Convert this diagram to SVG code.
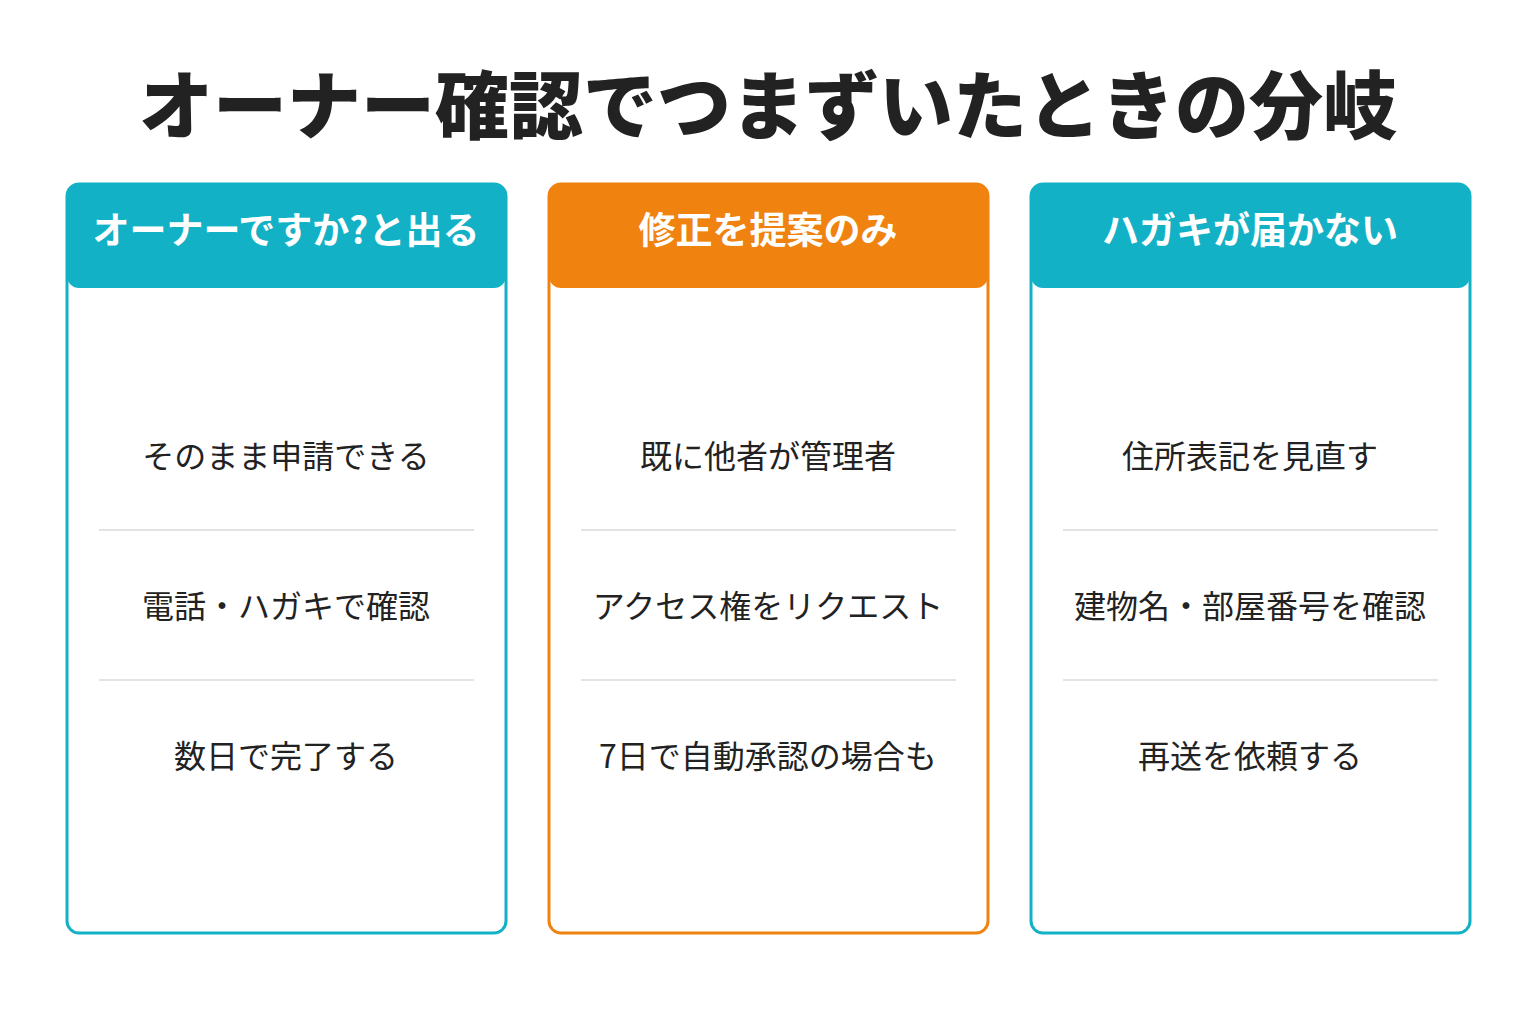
<svg xmlns="http://www.w3.org/2000/svg" width="1536" height="1024" viewBox="0 0 1536 1024">
<style>
text{font-family:"Noto Sans CJK JP","Noto Sans",sans-serif;text-anchor:middle;dominant-baseline:central}
.title{font-size:74px;font-weight:900;fill:#222}
.hd{font-size:37px;font-weight:700;fill:#fff}
.it{font-size:32px;fill:#222}
.div{stroke:#e3e3e3;stroke-width:2}
</style>
<rect width="1536" height="1024" fill="#fff"/>
<text class="title" x="768" y="100">オーナー確認でつまずいたときの分岐</text>
<g id="card1">
<rect x="67" y="184" width="439" height="749" rx="12" fill="#fff" stroke="#13B1C5" stroke-width="3"/>
<path d="M67 196a12 12 0 0 1 12-12h415a12 12 0 0 1 12 12v80a12 12 0 0 1-12 12h-415a12 12 0 0 1-12-12z" fill="#13B1C5"/>
<text class="hd" x="286" y="228">オーナーですか?と出る</text>
<text class="it" x="286" y="454">そのまま申請できる</text>
<line class="div" x1="99" y1="530" x2="474" y2="530"/>
<text class="it" x="286" y="604">電話・ハガキで確認</text>
<line class="div" x1="99" y1="680" x2="474" y2="680"/>
<text class="it" x="286" y="754">数日で完了する</text>
</g>
<g id="card2">
<rect x="549" y="184" width="439" height="749" rx="12" fill="#fff" stroke="#F08210" stroke-width="3"/>
<path d="M549 196a12 12 0 0 1 12-12h415a12 12 0 0 1 12 12v80a12 12 0 0 1-12 12h-415a12 12 0 0 1-12-12z" fill="#F08210"/>
<text class="hd" x="768" y="228">修正を提案のみ</text>
<text class="it" x="768" y="454">既に他者が管理者</text>
<line class="div" x1="581" y1="530" x2="956" y2="530"/>
<text class="it" x="768" y="604">アクセス権をリクエスト</text>
<line class="div" x1="581" y1="680" x2="956" y2="680"/>
<text class="it" x="768" y="754">7日で自動承認の場合も</text>
</g>
<g id="card3">
<rect x="1031" y="184" width="439" height="749" rx="12" fill="#fff" stroke="#13B1C5" stroke-width="3"/>
<path d="M1031 196a12 12 0 0 1 12-12h415a12 12 0 0 1 12 12v80a12 12 0 0 1-12 12h-415a12 12 0 0 1-12-12z" fill="#13B1C5"/>
<text class="hd" x="1250" y="228">ハガキが届かない</text>
<text class="it" x="1250" y="454">住所表記を見直す</text>
<line class="div" x1="1063" y1="530" x2="1438" y2="530"/>
<text class="it" x="1250" y="604">建物名・部屋番号を確認</text>
<line class="div" x1="1063" y1="680" x2="1438" y2="680"/>
<text class="it" x="1250" y="754">再送を依頼する</text>
</g>
<g id="connectors"/>
</svg>
